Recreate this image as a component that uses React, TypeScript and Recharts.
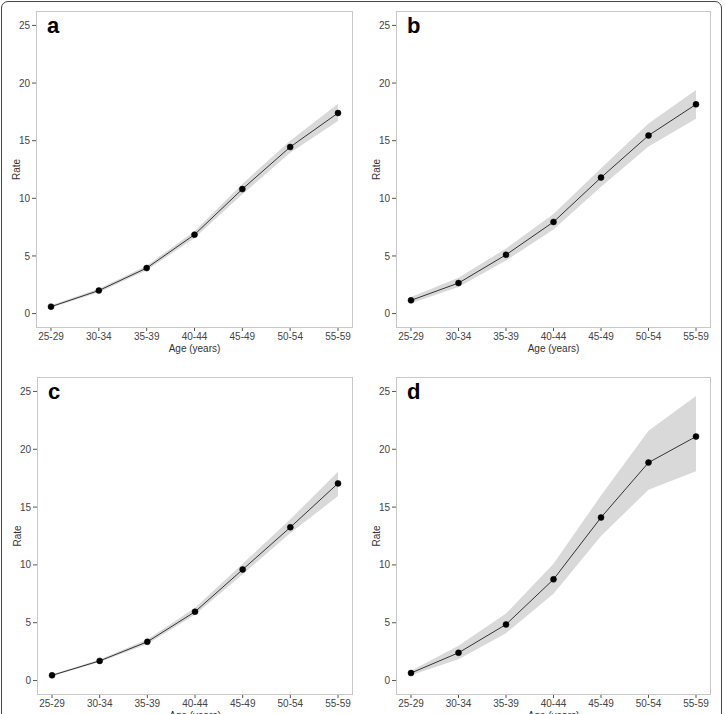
import React from 'react';
import { ComposedChart, Area, Line, XAxis, YAxis } from 'recharts';

const ages = ['25-29', '30-34', '35-39', '40-44', '45-49', '50-54', '55-59'];
const rateTicks = [0, 5, 10, 15, 20, 25];

const rateA = [0.6, 2.0, 3.95, 6.85, 10.8, 14.45, 17.4];
const lowA = [0.5, 1.85, 3.75, 6.55, 10.35, 13.95, 16.7];
const highA = [0.72, 2.15, 4.15, 7.15, 11.25, 15.0, 18.2];

const rateB = [1.15, 2.65, 5.1, 7.95, 11.8, 15.45, 18.15];
const lowB = [0.9, 2.3, 4.6, 7.3, 11.0, 14.5, 16.9];
const highB = [1.45, 3.1, 5.65, 8.65, 12.6, 16.5, 19.4];

const rateC = [0.45, 1.7, 3.35, 5.95, 9.6, 13.25, 17.05];
const lowC = [0.38, 1.6, 3.15, 5.7, 9.2, 12.75, 15.95];
const highC = [0.52, 1.82, 3.55, 6.3, 10.1, 13.95, 18.05];

const rateD = [0.65, 2.4, 4.85, 8.75, 14.1, 18.85, 21.1];
const lowD = [0.45, 1.85, 4.1, 7.5, 12.5, 16.5, 18.1];
const highD = [0.85, 3.0, 5.8, 10.1, 16.0, 21.6, 24.6];

const FONT = '"Liberation Sans", Arial, sans-serif';
const CHART_W = 363;
const AXIS_H = 29;

const build = (rate: number[], low: number[], high: number[]) =>
  ages.map((age, i) => ({ age, rate: rate[i], band: [low[i], high[i]] }));

interface PanelProps {
  letter: string;
  rate: number[];
  low: number[];
  high: number[];
  left: number;
  top: number;
  plotLeft: number;
  plotRight: number;
  plotTop: number;
  plotBottom: number;
}

const Panel: React.FC<PanelProps> = ({ letter, rate, low, high, left, top, plotLeft, plotRight, plotTop, plotBottom }) => {
  const data = build(rate, low, high);
  const height = plotBottom + AXIS_H;
  const tickStyle = { fill: '#444', fontSize: 10, fontFamily: FONT };

  return (
    <div style={{ position: 'absolute', left, top, width: CHART_W, height }}>
      <ComposedChart
        width={CHART_W}
        height={height}
        data={data}
        margin={{ top: plotTop, right: CHART_W - plotRight, left: 0, bottom: 0 }}
      >
        <XAxis
          dataKey="age"
          type="category"
          scale="point"
          padding={{ left: 15, right: 15 }}
          height={AXIS_H}
          axisLine={false}
          tickSize={3}
          tickMargin={2}
          tickLine={{ stroke: '#555' }}
          tick={tickStyle}
          interval={0}
          label={{ value: 'Age (years)', position: 'insideBottom', offset: 5, fill: '#333', fontSize: 10, fontFamily: FONT }}
        />
        <YAxis
          type="number"
          domain={[-1.25, 26.25]}
          ticks={rateTicks}
          width={plotLeft}
          axisLine={false}
          tickSize={4}
          tickMargin={2}
          tickLine={{ stroke: '#555' }}
          tick={tickStyle}
          label={{
            value: 'Rate',
            content: (props: any) => {
              const vb = props.viewBox;
              const cx = vb.x + vb.width - 20;
              const cy = vb.y + vb.height / 2;
              return (
                <text
                  x={cx}
                  y={cy}
                  transform={`rotate(-90 ${cx} ${cy})`}
                  textAnchor="middle"
                  dominantBaseline="central"
                  fill="#333"
                  fontSize={10}
                  fontFamily={FONT}
                >
                  Rate
                </text>
              );
            },
          }}
        />
        <Area
          type="linear"
          dataKey="band"
          stroke="none"
          fill="#d9d9d9"
          fillOpacity={1}
          isAnimationActive={false}
          activeDot={false}
        />
        <Line
          type="linear"
          dataKey="rate"
          stroke="#333"
          strokeWidth={1}
          dot={{ r: 3, fill: '#000', stroke: '#000', strokeWidth: 0.5 }}
          activeDot={false}
          isAnimationActive={false}
        />
      </ComposedChart>
      <div
        style={{
          position: 'absolute',
          left: plotLeft,
          top: plotTop,
          width: plotRight - plotLeft,
          height: plotBottom - plotTop,
          border: '1px solid #c8c8c8',
          boxSizing: 'border-box',
          pointerEvents: 'none',
        }}
      />
      <div
        style={{
          position: 'absolute',
          left: plotLeft + 11,
          top: plotTop + 3,
          fontFamily: FONT,
          fontWeight: 'bold',
          fontSize: 22,
          lineHeight: '24px',
          color: '#000',
        }}
      >
        {letter}
      </div>
    </div>
  );
};

const App: React.FC = () => {
  return (
    <div
      style={{
        position: 'fixed',
        left: 0,
        top: 0,
        width: 726,
        height: 714,
        overflow: 'hidden',
        background: '#fff',
      }}
    >
      <div
        style={{
          position: 'absolute',
          left: 1,
          top: 1,
          width: 721,
          height: 740,
          border: '1.5px solid #444',
          borderRadius: 7,
          boxSizing: 'border-box',
        }}
      />
      <Panel letter="a" rate={rateA} low={lowA} high={highA} left={0} top={0} plotLeft={36} plotRight={353} plotTop={11} plotBottom={328} />
      <Panel letter="b" rate={rateB} low={lowB} high={highB} left={363} top={0} plotLeft={33} plotRight={348} plotTop={11} plotBottom={328} />
      <Panel letter="c" rate={rateC} low={lowC} high={highC} left={0} top={357} plotLeft={37} plotRight={353} plotTop={20} plotBottom={338} />
      <Panel letter="d" rate={rateD} low={lowD} high={highD} left={363} top={357} plotLeft={33} plotRight={348} plotTop={20} plotBottom={338} />
    </div>
  );
};

export default App;
